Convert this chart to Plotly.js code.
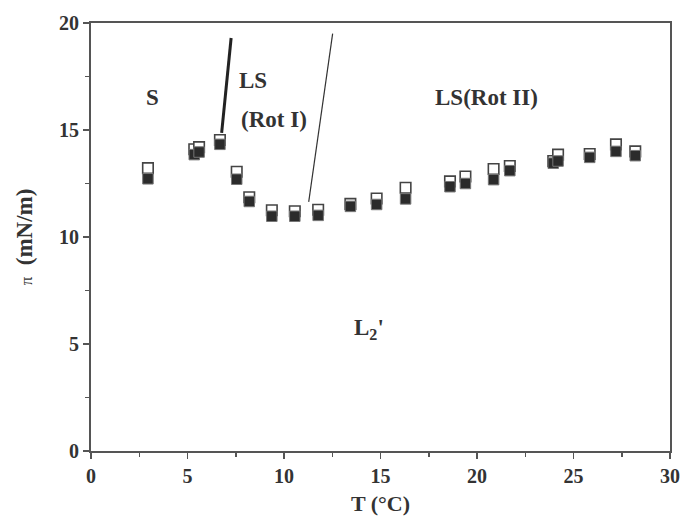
<!DOCTYPE html>
<html>
<head>
<meta charset="utf-8">
<script src="https://cdn.plot.ly/plotly-3.0.1.min.js"></script>
<style>html,body{margin:0;padding:0;background:#fff;}#chart{width:682px;height:531px;}</style>
</head>
<body>
<div id="chart"></div>
<script>
// Temperature (°C)
const T = [2.95, 5.35, 5.6, 6.68, 7.55, 8.2, 9.37, 10.56, 11.77, 13.44, 14.8, 16.3, 18.6, 19.4, 20.86, 21.7, 23.95, 24.2, 25.84, 27.2, 28.2];
// Open symbols (upper)
const piOpen = [13.22, 14.1, 14.2, 14.53, 13.05, 11.86, 11.25, 11.2, 11.27, 11.55, 11.8, 12.3, 12.6, 12.83, 13.18, 13.32, 13.55, 13.85, 13.88, 14.33, 14.0];
// Filled symbols (lower)
const piFilled = [12.72, 13.85, 13.97, 14.33, 12.7, 11.66, 10.97, 10.97, 11.01, 11.43, 11.52, 11.78, 12.35, 12.5, 12.68, 13.1, 13.45, 13.55, 13.72, 14.0, 13.8];
// Phase boundary lines
const boundThickT = [6.77, 7.26], boundThickPi = [14.87, 19.3];
const boundThinT = [11.28, 12.52], boundThinPi = [11.64, 19.5];
// Labels
const labelText = ["S", "LS", "(Rot I)", "LS(Rot II)", "L<sub>2</sub>'"];
const labelT = [3.2, 8.4, 9.5, 20.5, 14.4];
const labelPi = [16.5, 17.3, 15.5, 16.5, 5.7];

const serif = "Liberation Serif, Times New Roman, serif";
const ink = "#333";

const traces = [
  {x: boundThickT, y: boundThickPi, mode: "lines", line: {color: "#222", width: 3}, hoverinfo: "skip"},
  {x: boundThinT, y: boundThinPi, mode: "lines", line: {color: "#333", width: 1.2}, hoverinfo: "skip"},
  {x: T, y: piOpen, mode: "markers", marker: {symbol: "square", size: 10.5, color: "#fff", line: {color: "#444", width: 1.6}}},
  {x: T, y: piFilled, mode: "markers", marker: {symbol: "square", size: 10.5, color: "#2b2b2b", line: {color: "#777", width: 1}}}
];

const annotations = labelText.map((t, i) => ({
  x: labelT[i], y: labelPi[i], xref: "x", yref: "y", text: "<b>" + t + "</b>",
  showarrow: false, font: {family: serif, size: 23, color: ink}
}));

const axisCommon = {
  showgrid: false, zeroline: false, showline: true, mirror: true,
  linecolor: "#555", linewidth: 2, ticks: "outside", ticklen: 6, tickwidth: 1.5, tickcolor: "#555",
  tickfont: {family: serif, size: 20, color: ink, weight: "bold"},
  minor: {dtick: 2.5, ticks: "outside", ticklen: 4, tickwidth: 1.5, tickcolor: "#555"}
};

const layout = {
  width: 682, height: 531,
  margin: {l: 91, r: 12, t: 23, b: 80},
  paper_bgcolor: "#fff", plot_bgcolor: "#fff",
  showlegend: false,
  xaxis: Object.assign({}, axisCommon, {
    range: [0, 30], dtick: 5, tick0: 0,
    title: {text: "<b>T (°C)</b>", font: {family: serif, size: 22, color: ink}, standoff: 10}
  }),
  yaxis: Object.assign({}, axisCommon, {
    range: [0, 20], dtick: 5, tick0: 0,
    title: {text: "<span style='font-size:17px'>π</span>  <b>(mN/m)</b>", font: {family: serif, size: 23, color: ink}, standoff: 20}
  }),
  annotations: annotations
};

Plotly.newPlot("chart", traces, layout, {displayModeBar: false, staticPlot: true});
</script>
</body>
</html>
